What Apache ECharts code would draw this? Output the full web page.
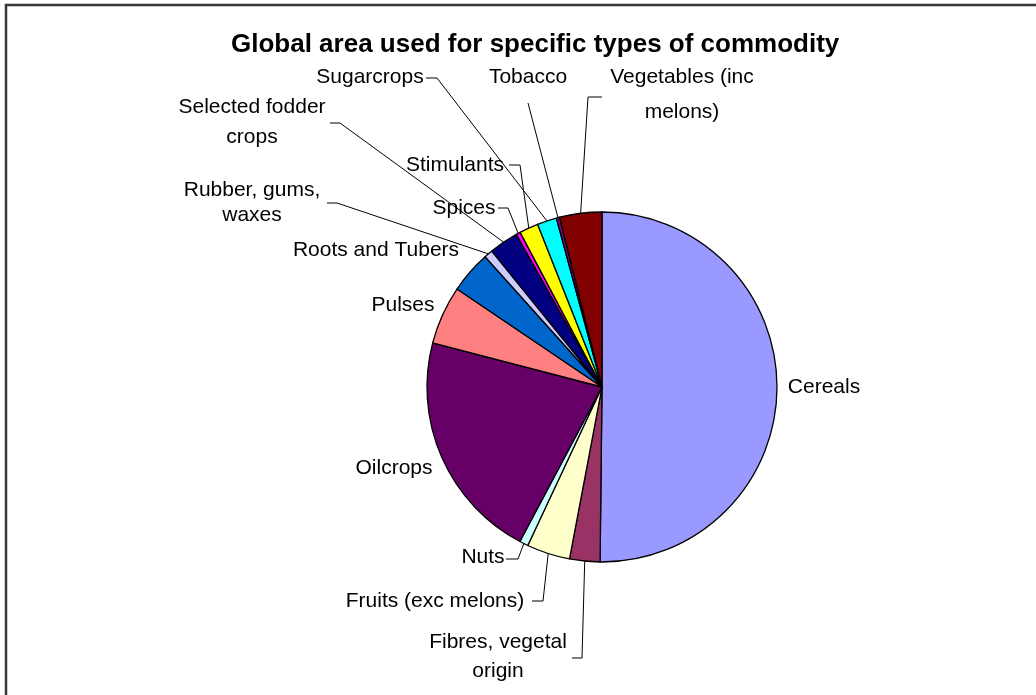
<!DOCTYPE html>
<html>
<head>
<meta charset="utf-8">
<title>Global area used for specific types of commodity</title>
<script src="https://cdn.jsdelivr.net/npm/echarts@6/dist/echarts.min.js"></script>
<style>
  html, body { margin: 0; padding: 0; background: #ffffff; }
  #chart { width: 1036px; height: 695px; }
</style>
</head>
<body>
<div id="chart"></div>
<script>
// Commodity groups, clockwise from 12 o'clock
const categories = [
  'Cereals', 'Fibres, vegetal origin', 'Fruits (exc melons)', 'Nuts', 'Oilcrops',
  'Pulses', 'Roots and Tubers', 'Rubber, gums, waxes', 'Selected fodder crops',
  'Spices', 'Stimulants', 'Sugarcrops', 'Tobacco', 'Vegetables (inc melons)'
];
// Share of global harvested area (%)
const areaShares = [50.2, 2.8, 4.0, 0.8, 21.3, 5.4, 3.9, 0.8, 2.7, 0.4, 1.75, 1.8, 0.3, 3.9];
// Label text as it wraps on the chart
const labelTexts = [
  'Cereals', 'Fibres, vegetal\norigin', 'Fruits (exc melons)', 'Nuts', 'Oilcrops',
  'Pulses', 'Roots and Tubers', 'Rubber, gums,\nwaxes', 'Selected fodder\ncrops',
  'Spices', 'Stimulants', 'Sugarcrops', 'Tobacco', 'Vegetables (inc\nmelons)'
];

// Slice fills
const sliceColors = [
  '#9999FF', '#993366', '#FFFFCC', '#CCFFFF', '#660066', '#FF8080', '#0066CC',
  '#CCCCFF', '#000080', '#FF00FF', '#FFFF00', '#00FFFF', '#800080', '#800000'
];

// Label placement: text centre [x, y] and line height
const labelSpots = [
  [824, 387, 24], [498, 657, 29], [435, 601, 24], [483, 557, 24], [394, 468, 24],
  [403, 305, 24], [376, 250, 24], [252, 203, 25], [252, 122, 30],
  [464, 208, 24], [455, 165, 24], [370, 77, 24], [528, 77, 24], [682, 95, 35]
];
// Leader lines: [elbow, end next to the text]; null = no leader line
const leaderBends = [
  null,
  [[582, 658], [572, 658]],
  [[543, 601], [532, 601]],
  [[518, 559], [506, 559]],
  null,
  null,
  null,
  [[337, 203], [327, 203]],
  [[340, 123], [330, 123]],
  [[508, 208], [498, 208]],
  [[520, 165], [509, 165]],
  [[437, 78], [426, 78]],
  [[528, 103], [528, 103]],
  [[588, 97], [602, 97]]
];

const pieData = categories.map(function (name, i) {
  return {
    name: name,
    value: areaShares[i],
    itemStyle: { color: sliceColors[i] },
    label: { lineHeight: labelSpots[i][2] },
    labelLine: { show: leaderBends[i] !== null }
  };
});

const chart = echarts.init(document.getElementById('chart'), null, { renderer: 'canvas' });

chart.setOption({
  animation: false,
  backgroundColor: '#ffffff',
  title: {
    text: 'Global area used for specific types of commodity',
    left: 231,
    top: 32,
    padding: 0,
    textStyle: {
      fontFamily: 'Liberation Sans',
      fontSize: 26,
      fontWeight: 'bold',
      color: '#000000'
    }
  },
  graphic: [{
    type: 'rect',
    shape: { x: 6, y: 5, width: 1100, height: 800 },
    style: { fill: 'none', stroke: '#383838', lineWidth: 2.5 },
    silent: true
  }],
  series: [{
    type: 'pie',
    center: [602, 387],
    radius: 175,
    startAngle: 90,
    clockwise: true,
    avoidLabelOverlap: false,
    data: pieData,
    itemStyle: { borderColor: '#000000', borderWidth: 1.3 },
    emphasis: { disabled: true },
    label: {
      show: true,
      position: 'outside',
      formatter: function (p) { return labelTexts[p.dataIndex]; },
      fontFamily: 'Liberation Sans',
      fontSize: 21,
      color: '#000000',
      align: 'center'
    },
    labelLine: {
      show: true,
      length: 10,
      length2: 10,
      smooth: false,
      lineStyle: { color: '#000000', width: 1 }
    },
    labelLayout: function (params) {
      const i = params.dataIndex;
      const spot = labelSpots[i];
      const out = {
        x: spot[0],
        y: spot[1],
        align: 'center',
        verticalAlign: 'middle'
      };
      const bend = leaderBends[i];
      if (bend && params.labelLinePoints) {
        out.labelLinePoints = [params.labelLinePoints[0], bend[0], bend[1]];
      }
      return out;
    }
  }]
});
</script>
</body>
</html>
